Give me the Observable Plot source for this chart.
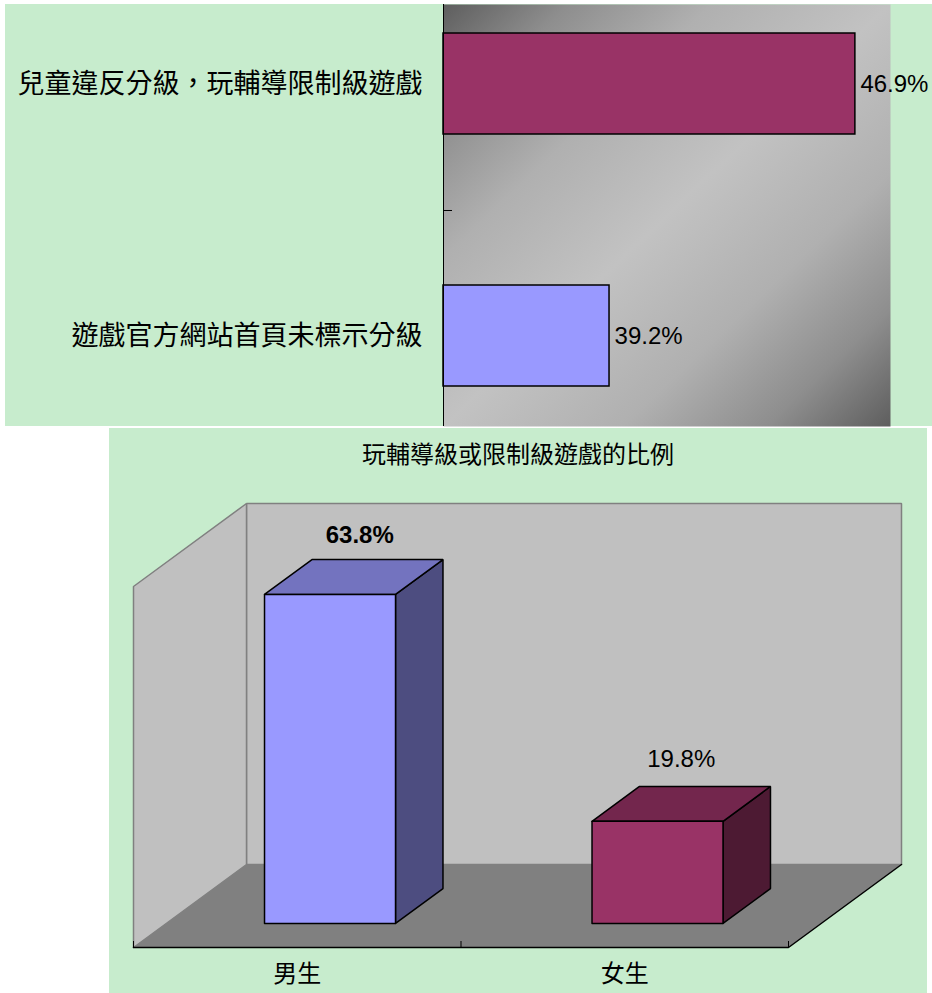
<!DOCTYPE html>
<html>
<head>
<meta charset="utf-8">
<script src="https://cdn.jsdelivr.net/npm/d3@7"></script>
<script src="https://cdn.jsdelivr.net/npm/@observablehq/plot@0.6"></script>
<style>
html, body { margin: 0; padding: 0; background: #ffffff; }
#wrap { position: relative; width: 932px; height: 993px; overflow: hidden; }
.bg { position: absolute; background: #C7ECCD; }
#topChart { position: absolute; left: 0; top: 0; }
#botChart { position: absolute; left: 0; top: 427px; }
#title { position: absolute; left: 109px; width: 818px; top: 438px; text-align: center;
  font-family: "Noto Sans CJK TC", sans-serif; font-size: 24px; line-height: 30px; color: #000; }
</style>
</head>
<body>
<div id="wrap">
  <div class="bg" style="left:5px;top:4px;width:927px;height:422px;"></div>
  <div class="bg" style="left:109px;top:428px;width:818px;height:565px;"></div>
  <div id="topChart"></div>
  <div id="title"></div>
  <div id="botChart"></div>
</div>
<script>
// ---------- data ----------
const topCategories = ["兒童違反分級，玩輔導限制級遊戲", "遊戲官方網站首頁未標示分級"];
const topValues = [46.9, 39.2];
const topDomain = [34, 48];

const chartTitle = "玩輔導級或限制級遊戲的比例";
const genderCategories = ["男生", "女生"];
const genderValues = [63.8, 19.8];
const genderDomain = [0, 70];

// ---------- styles ----------
const topColors = ["#993366", "#9999FF"];
const genderFront = ["#9999FF", "#993366"];
const genderTop = ["#7373BF", "#73264D"];
const genderSide = ["#4D4D80", "#4D1A33"];
const latin = '"Liberation Sans", Arial, sans-serif';
const cjk = '"Noto Sans CJK TC", sans-serif';

document.getElementById("title").textContent = chartTitle;

// ---------- top chart ----------
const TW = 932, TH = 430, tML = 443, tMR = 42, tMT = 4, tMB = 4;
const topData = topCategories.map((c, i) => ({cat: c, value: topValues[i], color: topColors[i]}));
const xMin = topDomain[0];
const pxPerX = (TW - tML - tMR) / (topDomain[1] - topDomain[0]);
const paddingInner = 0.6, paddingOuter = 0.134;
const bandStep = (TH - tMT - tMB) / (topCategories.length - paddingInner + 2 * paddingOuter);

const gradientDefs = () => {
  const defs = document.createElementNS("http://www.w3.org/2000/svg", "defs");
  defs.innerHTML = '<linearGradient id="plotGrad" x1="0" y1="0" x2="1" y2="1">' +
    '<stop offset="0" stop-color="#5E5E5E"/>' +
    '<stop offset="0.14" stop-color="#8E8E8E"/>' +
    '<stop offset="0.3" stop-color="#B0B0B0"/>' +
    '<stop offset="0.5" stop-color="#C2C2C2"/>' +
    '<stop offset="0.7" stop-color="#B0B0B0"/>' +
    '<stop offset="0.86" stop-color="#8E8E8E"/>' +
    '<stop offset="1" stop-color="#5E5E5E"/></linearGradient>';
  return defs;
};

const topPlot = Plot.plot({
  width: TW, height: TH,
  marginLeft: tML, marginRight: tMR, marginTop: tMT, marginBottom: tMB,
  x: {domain: topDomain, axis: null},
  y: {type: "band", domain: topCategories, paddingInner, paddingOuter, align: 0.413, axis: null},
  color: {type: "identity"},
  style: {background: "transparent", overflow: "visible", fontFamily: latin},
  marks: [
    gradientDefs,
    Plot.frame({fill: "url(#plotGrad)", stroke: "none"}),
    Plot.barX(topData, {y: "cat", x1: xMin, x2: "value", fill: "color", stroke: "#000", strokeWidth: 1.5}),
    Plot.ruleX([xMin], {stroke: "#000", strokeWidth: 1}),
    Plot.ruleY([topCategories[0]], {x1: xMin, x2: xMin + 9 / pxPerX, dy: bandStep / 2, stroke: "#000"}),
    Plot.text(topData, {y: "cat", x: "value", text: d => d.value.toFixed(1) + "%", textAnchor: "start",
      dx: 5, fontSize: 24, fill: "#000", fontFamily: latin}),
    Plot.axisY({tickSize: 0, tickPadding: 21, fontSize: 27, fontFamily: cjk, fill: "#000", label: null})
  ]
});
document.getElementById("topChart").appendChild(topPlot);

// ---------- bottom chart (3D column) ----------
const BW = 932, BH = 566, bML = 133, bMR = 144, bMT = 159, bMB = 46;
const nCat = genderCategories.length;
const depthPx = [113, 83];
const kx = depthPx[0] / ((BW - bML - bMR) / nCat);
const pxPerY = (BH - bMT - bMB) / (genderDomain[1] - genderDomain[0]);
const ky = depthPx[1] / pxPerY;
const P = (u, v, d) => ({x: u + d * kx, y: v + d * ky});
const yMax = genderDomain[1];
const poly = (pts, opts) => Plot.line([...pts, pts[0]], {x: "x", y: "y", strokeLinejoin: "miter", ...opts});

const hw = 0.2, d0 = 0.29, d1 = 0.71;
const genderData = genderCategories.map((c, i) => {
  const v = genderValues[i], cx = i + 0.5;
  const lab = P(cx, v, 0.5);
  return {cat: c, value: v, i, cx, lx: lab.x, ly: lab.y,
    label: v.toFixed(1) + "%"};
});

const barMarks = [];
genderData.forEach(d => {
  const {cx, value: v, i} = d;
  barMarks.push(poly([P(cx + hw, 0, d0), P(cx + hw, 0, d1), P(cx + hw, v, d1), P(cx + hw, v, d0)],
    {fill: genderSide[i], stroke: "#000", strokeWidth: 1.5}));
  barMarks.push(poly([P(cx - hw, v, d0), P(cx + hw, v, d0), P(cx + hw, v, d1), P(cx - hw, v, d1)],
    {fill: genderTop[i], stroke: "#000", strokeWidth: 1.5}));
  barMarks.push(poly([P(cx - hw, 0, d0), P(cx + hw, 0, d0), P(cx + hw, v, d0), P(cx - hw, v, d0)],
    {fill: genderFront[i], stroke: "#000", strokeWidth: 1.5}));
});

const botPlot = Plot.plot({
  width: BW, height: BH,
  marginLeft: bML, marginRight: bMR, marginTop: bMT, marginBottom: bMB,
  x: {domain: [0, nCat], axis: null},
  y: {domain: genderDomain, axis: null},
  style: {background: "transparent", overflow: "visible", fontFamily: latin},
  marks: [
    poly([P(0, 0, 1), P(nCat, 0, 1), P(nCat, yMax, 1), P(0, yMax, 1)], {fill: "#C0C0C0", stroke: "#808080", strokeWidth: 1.5}),
    poly([P(0, 0, 0), P(0, 0, 1), P(0, yMax, 1), P(0, yMax, 0)], {fill: "#C0C0C0", stroke: "#808080", strokeWidth: 1.5}),
    poly([P(0, 0, 0), P(nCat, 0, 0), P(nCat, 0, 1), P(0, 0, 1)], {fill: "#808080", stroke: "none"}),
    Plot.line([P(0, 0, 0), P(nCat, 0, 0), P(nCat, 0, 1)], {x: "x", y: "y", stroke: "#000", strokeWidth: 1.5}),
    Plot.ruleX(d3.range(nCat + 1), {y1: 0, y2: 6 / pxPerY, stroke: "#000", strokeWidth: 1}),
    ...barMarks,
    Plot.text(genderData.filter(d => d.i === 0), {x: "lx", y: "ly", text: "label", dy: -42, dx: 6, fontSize: 24,
      fontWeight: "bold", fill: "#000", fontFamily: latin}),
    Plot.text(genderData.filter(d => d.i !== 0), {x: "lx", y: "ly", text: "label", dy: -45, fontSize: 24,
      fill: "#000", fontFamily: latin}),
    Plot.text(genderData, {x: "cx", y: 0, text: "cat", dy: 27, fontSize: 24, fill: "#000", fontFamily: cjk})
  ]
});
document.getElementById("botChart").appendChild(botPlot);
</script>
</body>
</html>
